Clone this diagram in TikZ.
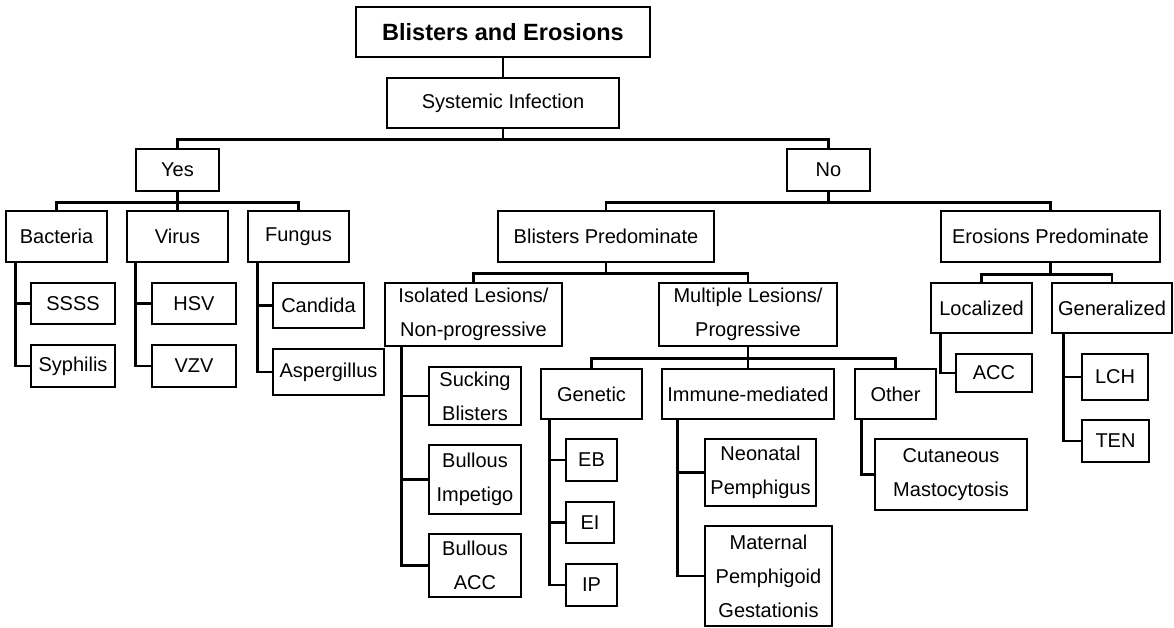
\documentclass[tikz,border=0pt]{standalone}
\usepackage{fontspec}
\setmainfont{Liberation Sans}

\begin{document}
\begin{tikzpicture}[x=1pt,y=-1pt,box/.style={draw, line width=2.6pt, align=center, inner sep=0pt, font=\fontsize{20}{34}\selectfont},link/.style={line width=2.6pt, line join=miter}]
\newcommand{\bx}[6]{\node[box, minimum width=#4pt, minimum height=#5pt] (#1) at (#2,#3) {#6};}
\useasboundingbox (0,0) rectangle (1174,627);
% top of the tree
\node[box, minimum width=294pt, minimum height=50pt, font=\fontsize{23.5}{28}\selectfont\bfseries] (title) at (503,32) {Blisters and Erosions};
\bx{sys}{503}{103}{232}{50}{Systemic Infection}
\bx{yes}{177.5}{170}{83}{42}{Yes}
\bx{no}{828.5}{170}{83}{42}{No}
% systemic infection: yes
\bx{bac}{56.5}{236.5}{101}{51}{Bacteria}
\bx{vir}{177.5}{236.5}{101}{51}{Virus}
\bx{fun}{298.5}{236.5}{101}{51}{Fungus}
\bx{ssss}{73}{303.5}{84}{41}{SSSS}
\bx{syph}{73}{366}{84}{42}{Syphilis}
\bx{hsv}{194}{303.5}{84}{41}{HSV}
\bx{vzv}{194}{366}{84}{42}{VZV}
\bx{cand}{318.5}{305.5}{91}{45}{Candida}
\bx{asp}{328.5}{372}{111}{46}{Aspergillus}
% systemic infection: no
\bx{blp}{606}{236.5}{216}{51}{Blisters Predominate}
\bx{erp}{1050.5}{236.5}{219}{51}{Erosions Predominate}
\bx{iso}{473.5}{314.5}{177}{63}{Isolated Lesions/\\Non-progressive}
\bx{mul}{748}{314.5}{178}{63}{Multiple Lesions/\\Progressive}
\bx{suck}{475}{396}{92}{58}{Sucking\\Blisters}
\bx{bimp}{475}{479.5}{92}{69}{Bullous\\Impetigo}
\bx{bacc}{475}{565.5}{92}{63}{Bullous\\ACC}
\bx{genet}{591.5}{394}{101}{50}{Genetic}
\bx{imm}{748}{394}{172}{50}{Immune-mediated}
\bx{oth}{895.5}{394}{81}{50}{Other}
\bx{eb}{591.5}{460}{51}{42}{EB}
\bx{ei}{590}{522.5}{48}{41}{EI}
\bx{ip}{591.5}{585}{51}{42}{IP}
\bx{neo}{760.5}{472.5}{111}{67}{Neonatal\\Pemphigus}
\bx{mat}{768.5}{576}{127}{100}{Maternal\\Pemphigoid\\Gestationis}
\bx{cut}{951}{474.5}{152}{71}{Cutaneous\\Mastocytosis}
\bx{loc}{981.5}{308}{101}{50}{Localized}
\bx{gen}{1112}{308}{120}{50}{Generalized}
\bx{acc}{994}{373}{76}{38}{ACC}
\bx{lch}{1115}{377}{66}{46}{LCH}
\bx{ten}{1115.5}{441}{67}{42}{TEN}
% connectors
\draw[link] (title) -- (sys);
\foreach \p/\c/\d in {sys/yes/10,sys/no/10,yes/bac/10,yes/vir/10,yes/fun/10,no/blp/10,no/erp/10,blp/iso/10,blp/mul/10,erp/loc/11,erp/gen/11,mul/genet/11,mul/imm/11,mul/oth/11}
  \draw[link] (\p.south) -- ++(0,\d) -| (\c.north);
\foreach \p/\c/\d in {bac/ssss/11,bac/syph/11,vir/hsv/10,vir/vzv/10,fun/cand/11,fun/asp/11,iso/suck/18,iso/bimp/18,iso/bacc/18,genet/eb/10,genet/ei/10,genet/ip/10,imm/neo/17,imm/mat/17,oth/cut/8,loc/acc/11,gen/lch/13,gen/ten/13}
  \draw[link] ([xshift=\d pt]\p.south west) |- (\c.west);
\end{tikzpicture}
\end{document}
